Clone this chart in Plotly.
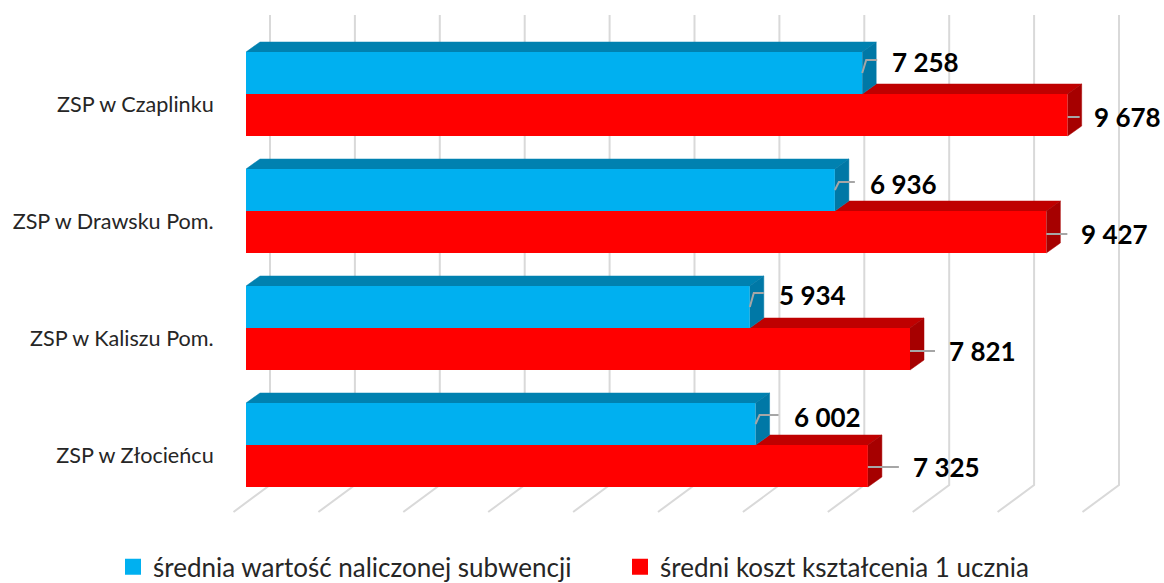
import plotly.graph_objects as go

# ---- data ----
categories = ["ZSP w Czaplinku", "ZSP w Drawsku Pom.", "ZSP w Kaliszu Pom.", "ZSP w Złocieńcu"]
subwencja = [7258, 6936, 5934, 6002]
koszt = [9678, 9427, 7821, 7325]
label_subwencja = ["7 258", "6 936", "5 934", "6 002"]
label_koszt = ["9 678", "9 427", "7 821", "7 325"]
grid_ticks = [0, 1000, 2000, 3000, 4000, 5000, 6000, 7000, 8000, 9000, 10000]
series_names = ["średnia wartość naliczonej subwencji", "średni koszt kształcenia 1 ucznia"]

# ---- styling ----
W, H = 1164, 583
FONT = "Lato"
BLUE, BLUE_TOP, BLUE_SIDE = "#00B0F0", "#0081B0", "#0078A6"
RED, RED_TOP, RED_SIDE = "#FF0000", "#BF0000", "#A60000"
GRID = "#D9D9D9"
LEADER = "#A6A6A6"
L_MARGIN = 225
B_MARGIN = 45
PX_PER_X = 0.0849   # pixels per value unit
X0_PX = 246         # pixel of value 0
ROW_PX = 117        # pixels per category row
Y0_PX = 94          # pixel of first row centre

def dx(px):
    return px / PX_PER_X

def dy(px):
    return px / ROW_PX

rows = list(range(len(categories)))
bar_h = dy(42)
depth_x, depth_y = dx(14), dy(10)

fig = go.Figure()

# bars (front faces)
fig.add_trace(go.Bar(y=rows, x=subwencja, name=series_names[0], orientation="h", showlegend=False,
                     marker=dict(color=BLUE, line_width=0), width=bar_h))
fig.add_trace(go.Bar(y=rows, x=koszt, name=series_names[1], orientation="h", showlegend=False,
                     marker=dict(color=RED, line_width=0), width=bar_h))

def poly(xs, ys, color):
    fig.add_trace(go.Scatter(x=xs, y=ys, mode="lines", fill="toself", fillcolor=color,
                             line=dict(color=color, width=0.5), hoverinfo="skip", showlegend=False))

for r, b, k in zip(rows, subwencja, koszt):
    top_b = r - bar_h
    # red faces
    poly([b, b + depth_x, k + depth_x, k], [r, r - depth_y, r - depth_y, r], RED_TOP)
    poly([k, k + depth_x, k + depth_x, k], [r, r - depth_y, r + bar_h - depth_y, r + bar_h], RED_SIDE)
    # blue faces
    poly([0, depth_x, b + depth_x, b], [top_b, top_b - depth_y, top_b - depth_y, top_b], BLUE_TOP)
    poly([b, b + depth_x, b + depth_x, b], [top_b, top_b - depth_y, r - depth_y, r], BLUE_SIDE)

# legend entries with square keys
for name, color in zip(series_names, [BLUE, RED]):
    fig.add_trace(go.Scatter(x=[None], y=[None], mode="markers", name=name,
                             marker=dict(symbol="square", size=16, color=color, line_width=0)))

# data labels and leader lines
blue_label_px = [29, 34, 28, 37]
blue_label_dy = [-32, -27, -33, -28]
red_label_px = [25, 34, 38, 44]
red_label_dy = [23, 23, 23, 22]
annos = []
for r, v, t, off, oy in zip(rows, subwencja, label_subwencja, blue_label_px, blue_label_dy):
    fig.add_trace(go.Scatter(
        x=[v, v + dx(4), v + dx(off - 14)],
        y=[r - dy(21), r + dy(oy - 2), r + dy(oy - 2)],
        mode="lines", line=dict(color=LEADER, width=2), hoverinfo="skip", showlegend=False))
    annos.append(dict(x=v + dx(off), y=r + dy(oy), text=f"<b>{t}</b>", xanchor="left", yanchor="middle",
                      showarrow=False, xshift=-1, font=dict(family=FONT, size=26, color="#000000")))
for r, v, t, off, oy in zip(rows, koszt, label_koszt, red_label_px, red_label_dy):
    fig.add_trace(go.Scatter(
        x=[v, v + dx(off - 13)],
        y=[r + dy(oy), r + dy(oy)],
        mode="lines", line=dict(color=LEADER, width=2), hoverinfo="skip", showlegend=False))
    annos.append(dict(x=v + dx(off), y=r + dy(oy), text=f"<b>{t}</b>", xanchor="left", yanchor="middle",
                      showarrow=False, xshift=-1, font=dict(family=FONT, size=26, color="#000000")))

# slanted "3D floor" grid + back wall
shapes = []
y_back = dy(485 - Y0_PX)
y_top = dy(15 - Y0_PX)
y_front = dy(512 - Y0_PX)
for t in grid_ticks:
    xb = t + dx(24)
    xf = t - dx(12.5)
    path_pts = [(xb, y_top), (xb, y_back), (xf, y_front)]
    shapes.append(dict(type="path", layer="below", xref="x", yref="y",
                       path="M" + " L".join(f"{a},{c}" for a, c in path_pts),
                       line=dict(color=GRID, width=2)))

fig.update_layout(
    width=W, height=H,
    margin=dict(l=L_MARGIN, r=0, t=0, b=B_MARGIN, pad=0, autoexpand=False),
    paper_bgcolor="white", plot_bgcolor="white",
    barmode="group", bargap=1 - 84 / ROW_PX, bargroupgap=0,
    font=dict(family=FONT, color="#262626"),
    shapes=shapes, annotations=annos,
    hovermode=False,
    xaxis=dict(range=[dx(L_MARGIN - X0_PX), dx(W - X0_PX)], showgrid=False, zeroline=False,
               showline=False, showticklabels=False, ticks=""),
    yaxis=dict(range=[dy(H - B_MARGIN - Y0_PX), dy(0 - Y0_PX)], showgrid=False, zeroline=False, showline=False,
               tickmode="array", tickvals=[r + dy(10) for r in rows], ticktext=categories,
               ticks="outside", ticklen=6, tickcolor="rgba(0,0,0,0)",
               tickfont=dict(family=FONT, size=21.6, color="#262626")),
    legend=dict(orientation="h", x=(113 - L_MARGIN) / (W - L_MARGIN), y=-0.01, xanchor="left", yanchor="top",
                entrywidth=462, entrywidthmode="pixels", traceorder="normal", itemwidth=30,
                font=dict(family=FONT, size=26, color="#262626"), bgcolor="rgba(0,0,0,0)"),
)

fig.write_html("out.html", post_script="document.body.style.margin='0';",
               config=dict(displayModeBar=False))
